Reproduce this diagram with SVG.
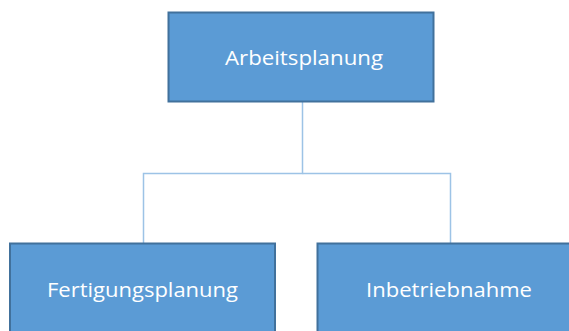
<svg xmlns="http://www.w3.org/2000/svg" width="569" height="331" viewBox="0 0 569 331">
  <style>
    .box { fill: #5B9BD5; stroke: #41719C; stroke-width: 2; }
    .label { fill: #FFFFFF; font-family: "Open Sans", "Liberation Sans", sans-serif; font-size: 20px; text-anchor: middle; }
    .link { fill: none; stroke: #9DC3E6; stroke-width: 1.5; }
  </style>
  <rect width="569" height="331" fill="#FFFFFF"/>
  <g id="connectors">
    <path class="link" d="M302.5 101 V173.5 H143.5 V243"/>
    <path class="link" d="M302.5 173.5 H450.5 V243"/>
  </g>
  <g id="arbeitsplanung">
    <rect class="box" x="168.5" y="12.5" width="265" height="89"/>
    <text class="label" x="304" y="65" textLength="158" lengthAdjust="spacingAndGlyphs">Arbeitsplanung</text>
  </g>
  <g id="fertigungsplanung">
    <rect class="box" x="10" y="243.5" width="265" height="92"/>
    <text class="label" x="142.5" y="297" textLength="191" lengthAdjust="spacingAndGlyphs">Fertigungsplanung</text>
  </g>
  <g id="inbetriebnahme">
    <rect class="box" x="317.5" y="243.5" width="265" height="92"/>
    <text class="label" x="449" y="297" textLength="166" lengthAdjust="spacingAndGlyphs">Inbetriebnahme</text>
  </g>
</svg>
